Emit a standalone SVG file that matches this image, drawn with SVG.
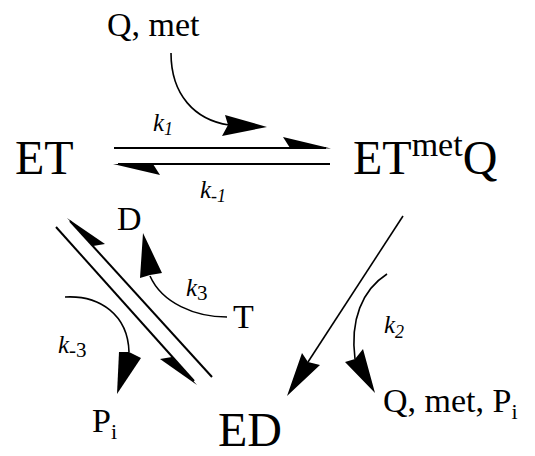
<svg xmlns="http://www.w3.org/2000/svg" width="535" height="456" viewBox="0 0 535 456">
<style>
text{font-family:"Liberation Serif","Times New Roman",serif;fill:#000}
.big{font-size:48px}
.sm{font-size:34px}
.k{font-size:25px;font-style:italic}
.sub{font-size:18px}
.ln{stroke:#000;stroke-width:2;fill:none}
.cv{stroke:#000;stroke-width:1.6;fill:none}
.hd{fill:#000;stroke:none}
</style>
<rect width="535" height="456" fill="#fff"/>
<g id="connectors">
<line class="ln" x1="114" y1="148" x2="326" y2="148"/>
<polygon class="hd" points="331,148.5 283,137 290,148"/>
<line class="ln" x1="118" y1="164" x2="330" y2="164"/>
<polygon class="hd" points="113,164 160,175 153,164"/>
<line class="ln" x1="56" y1="227" x2="194" y2="381"/>
<polygon class="hd" points="197,385 160,359 172,357"/>
<line class="ln" x1="212" y1="377" x2="70" y2="221"/>
<polygon class="hd" points="67,218 105,244 93,246"/>
<line class="cv" x1="403" y1="216" x2="308" y2="362"/>
<polygon class="hd" points="287,396 302,353 308,362 320,365"/>
<path class="cv" d="M171,53 C171,95 195,120 229,125"/>
<polygon class="hd" points="267,127 225,115 228,125 222,136"/>
<path class="cv" d="M387,274 C362,290 350,320 355,359"/>
<polygon class="hd" points="375,393 345,362 355,359 363,349"/>
<path class="cv" d="M227,317 C195,317 162,303 150,276"/>
<polygon class="hd" points="143,233 140,278 150,275 162,273"/>
<path class="cv" d="M65,297 C100,295 128,315 129,352"/>
<polygon class="hd" points="117,394 119,352 129,352 141,358"/>
</g>
<g id="node-ET"><text class="big" x="15" y="174">ET</text></g>
<g id="node-ETmetQ"><text class="big" x="353" y="174">ET<tspan class="sm" dy="-18">met</tspan><tspan dy="18">Q</tspan></text></g>
<g id="node-ED"><text class="big" x="218" y="446">ED</text></g>
<g id="label-Qmet"><text class="sm" x="107" y="36">Q, met</text></g>
<g id="label-D"><text class="sm" x="117" y="230">D</text></g>
<g id="label-T"><text class="sm" x="233" y="328">T</text></g>
<g id="label-Pi"><text class="sm" x="92" y="432">P<tspan style="font-size:22px" dy="7">i</tspan></text></g>
<g id="label-QmetPi"><text class="sm" x="383" y="412">Q, met, P<tspan style="font-size:22px" dy="7">i</tspan></text></g>
<g id="label-k1"><text class="k" x="153" y="131">k<tspan class="sub" dy="4">1</tspan></text></g>
<g id="label-km1"><text class="k" x="200" y="198">k<tspan class="sub" dy="4">-1</tspan></text></g>
<g id="label-k3"><text class="k" x="186" y="296">k<tspan class="sub" dy="4" style="font-style:normal;font-size:21px">3</tspan></text></g>
<g id="label-km3"><text class="k" x="58" y="353">k<tspan class="sub" dy="4" style="font-style:normal;font-size:21px">-3</tspan></text></g>
<g id="label-k2"><text class="k" x="384" y="333">k<tspan class="sub" dy="5">2</tspan></text></g>
</svg>
